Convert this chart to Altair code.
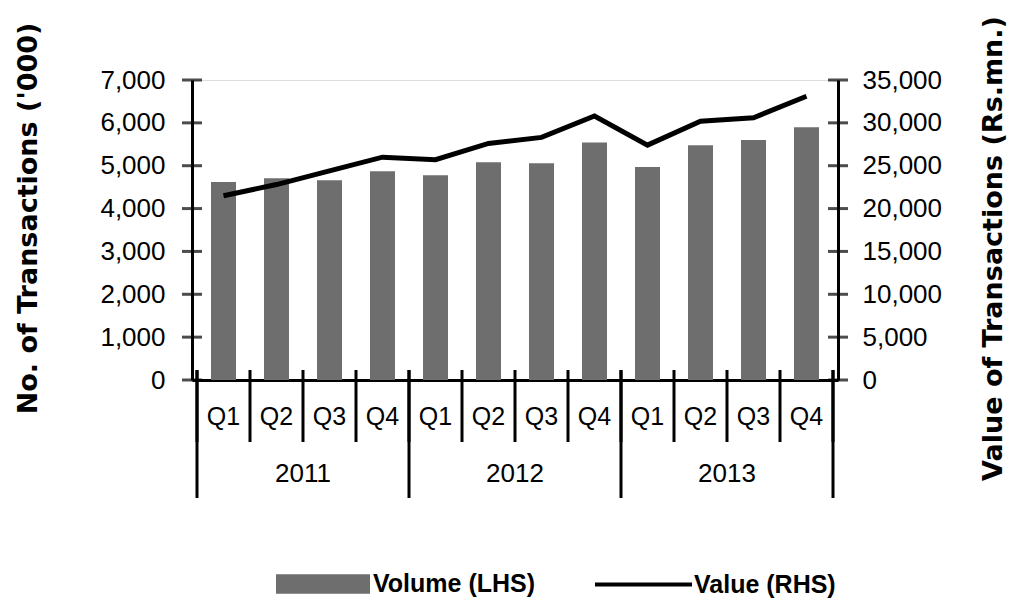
import altair as alt
import pandas as pd

# ---- data ----
years = ["2011"] * 4 + ["2012"] * 4 + ["2013"] * 4
quarters = ["Q1", "Q2", "Q3", "Q4"] * 3
volume = [4620, 4710, 4660, 4870, 4780, 5080, 5060, 5540, 4970, 5480, 5600, 5900]
value = [21500, 22800, 24400, 26000, 25700, 27600, 28300, 30800, 27400, 30200, 30600, 33100]
left_ticks = [0, 1000, 2000, 3000, 4000, 5000, 6000, 7000]
right_ticks = [0, 5000, 10000, 15000, 20000, 25000, 30000, 35000]
series_names = ["Volume (LHS)", "Value (RHS)"]
left_title = "No. of Transactions ('000)"
right_title = "Value of Transactions (Rs.mn.)"

FONT = "Liberation Sans"
TFONT = "DejaVu Sans"
GREY = "#6e6e6e"
W, H = 646, 300
n = len(years)

df = pd.DataFrame({
    "year": years,
    "quarter": quarters,
    "volume": volume,
    "value": value,
    "pos": [i + 0.5 for i in range(n)],
    "s1": series_names[0],
    "s2": series_names[1],
})
bounds = pd.DataFrame({"b": list(range(n + 1))})
year_bounds = pd.DataFrame({"b": [i for i in range(n + 1)
                                  if i == 0 or i == n or years[i] != years[i - 1]]})

xscale = alt.Scale(domain=[0, n], nice=False, zero=False)
xaxis = alt.Axis(title=None, labels=False, ticks=False, grid=False, values=[0],
                 domainColor="black", domainWidth=3)

bars = alt.Chart(df).mark_bar(size=25).encode(
    x=alt.X("pos:Q", scale=xscale, axis=xaxis),
    y=alt.Y("volume:Q", scale=alt.Scale(domain=[0, 7000], nice=False),
            axis=alt.Axis(values=left_ticks, format=",.0f", title=left_title, grid=False,
                          ticks=False, tickSize=0, labelPadding=27, labelFont=FONT,
                          labelFontSize=26, labelColor="black", domainColor="black",
                          domainWidth=3, titleFont=TFONT, titleFontSize=27,
                          titleFontWeight="bold", titleColor="black", titleAngle=270,
                          titleX=-164, titleY=138, titleAlign="center",
                          titleBaseline="middle")),
    fill=alt.Fill("s1:N", scale=alt.Scale(range=[GREY]),
                  legend=alt.Legend(title=None, orient="none", legendX=84, legendY=457,
                                    symbolType="M-1,-0.21H1V0.21H-1Z", symbolSize=8836,
                                    symbolStrokeWidth=0, labelFont=FONT, labelFontSize=25,
                                    labelFontWeight="bold", labelColor="black",
                                    labelOffset=3, labelLimit=400, padding=0,
                                    symbolOffset=0)),
)

line = alt.Chart(df).mark_line(strokeWidth=5).encode(
    x=alt.X("pos:Q", scale=xscale, axis=xaxis),
    y=alt.Y("value:Q", scale=alt.Scale(domain=[0, 35000], nice=False),
            axis=alt.Axis(orient="right", values=right_ticks, format=",.0f",
                          title=right_title, grid=False, ticks=False, tickSize=0,
                          labelPadding=24, labelFont=FONT, labelFontSize=26,
                          labelColor="black", domainColor="black", domainWidth=3,
                          titleFont=TFONT, titleFontSize=27, titleFontWeight="bold",
                          titleColor="black", titleAngle=270, titleX=155, titleY=168,
                          titleAlign="center", titleBaseline="middle")),
    stroke=alt.Stroke("s2:N", scale=alt.Scale(range=["black"]),
                      legend=alt.Legend(title=None, orient="none", legendX=401, legendY=454,
                                        symbolType="stroke", symbolSize=9409,
                                        symbolStrokeWidth=4, labelFont=FONT,
                                        labelFontSize=25, labelFontWeight="bold",
                                        labelColor="black", labelOffset=0, labelLimit=400,
                                        padding=0, symbolOffset=0)),
)

lticks = alt.Chart(pd.DataFrame({"t": left_ticks})).mark_tick(
    size=20, thickness=3, color="black").encode(
    y=alt.Y("t:Q", scale=alt.Scale(domain=[0, 7000], nice=False), axis=None),
    x=alt.value(0),
)
rticks = alt.Chart(pd.DataFrame({"t": right_ticks})).mark_tick(
    size=20, thickness=3, color="black").encode(
    y=alt.Y("t:Q", scale=alt.Scale(domain=[0, 35000], nice=False), axis=None),
    x=alt.value(W),
)

qsep = alt.Chart(bounds).mark_rule(color="black", strokeWidth=3).encode(
    x=alt.X("b:Q", scale=xscale, axis=xaxis),
    y=alt.value(290), y2=alt.value(362),
)
ysep = alt.Chart(year_bounds).mark_rule(color="black", strokeWidth=3).encode(
    x=alt.X("b:Q", scale=xscale, axis=xaxis),
    y=alt.value(290), y2=alt.value(418),
)

qtext = alt.Chart(df).mark_text(font=FONT, fontSize=25, baseline="middle",
                                color="black").encode(
    x=alt.X("pos:Q", scale=xscale, axis=xaxis),
    y=alt.value(337),
    text="quarter:N",
)
ytext = alt.Chart(df).transform_aggregate(
    pos="mean(pos)", groupby=["year"]
).mark_text(font=FONT, fontSize=26, baseline="middle", color="black").encode(
    x=alt.X("pos:Q", scale=xscale, axis=xaxis),
    y=alt.value(394),
    text="year:N",
)

chart = alt.layer(bars, line, lticks, rticks, qsep, ysep, qtext, ytext).resolve_scale(
    y="independent"
).properties(
    width=W, height=H,
    autosize=alt.AutoSizeParams(type="none"),
    padding={"left": 184, "top": 72, "right": 172, "bottom": 220},
).configure_view(stroke=None).configure(background="white")

chart.save("out.html", embed_options={"renderer": "svg", "actions": False})
